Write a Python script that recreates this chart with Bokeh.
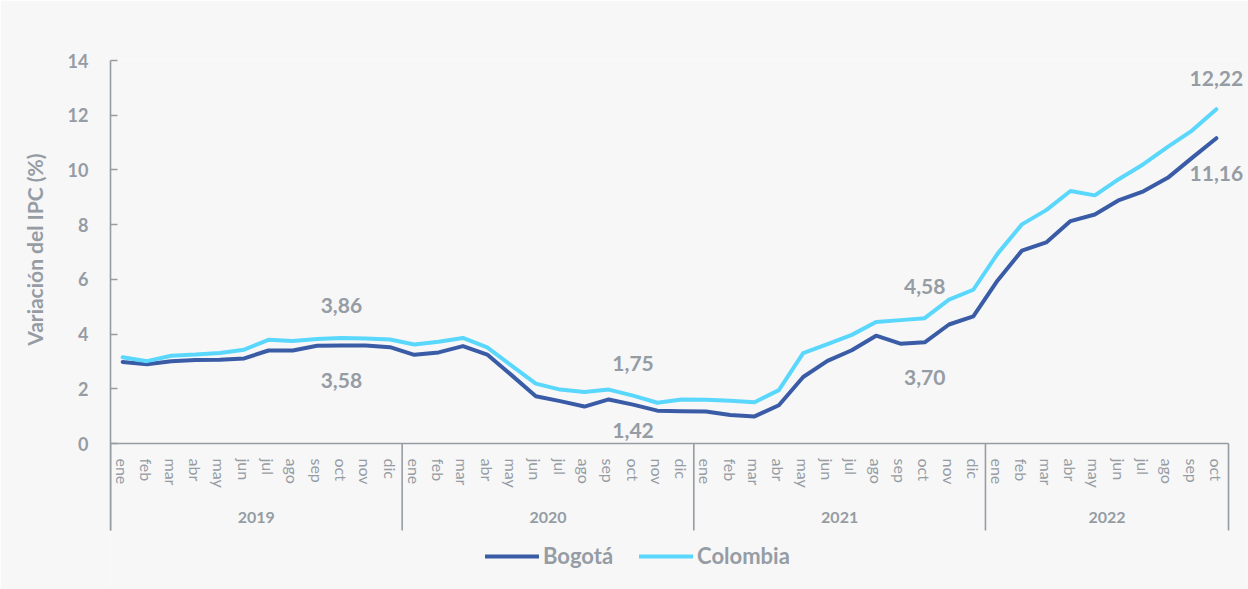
from bokeh.plotting import figure
from bokeh.models import (ColumnDataSource, FixedTicker, Legend, LegendItem, Range1d, Title)
from bokeh.core.properties import value
from bokeh.embed import file_html
from bokeh.resources import INLINE

# ---------------- data ----------------
years = ["2019", "2020", "2021", "2022"]
months = ["ene", "feb", "mar", "abr", "may", "jun", "jul", "ago", "sep", "oct", "nov", "dic"]
months_per_year = [12, 12, 12, 10]

bogota = [2.98, 2.90, 3.01, 3.05, 3.06, 3.11, 3.40, 3.40, 3.57, 3.58, 3.58, 3.52,
          3.24, 3.33, 3.56, 3.25, 2.50, 1.73, 1.55, 1.35, 1.61, 1.42, 1.20, 1.18,
          1.17, 1.04, 0.99, 1.40, 2.43, 3.02, 3.41, 3.94, 3.65, 3.70, 4.35, 4.65,
          5.96, 7.05, 7.35, 8.13, 8.37, 8.90, 9.22, 9.71, 10.44, 11.16]
colombia = [3.15, 3.01, 3.21, 3.25, 3.31, 3.43, 3.79, 3.75, 3.82, 3.86, 3.84, 3.80,
            3.62, 3.72, 3.86, 3.51, 2.85, 2.19, 1.97, 1.88, 1.97, 1.75, 1.49, 1.61,
            1.60, 1.56, 1.51, 1.95, 3.30, 3.63, 3.97, 4.44, 4.51, 4.58, 5.26, 5.62,
            6.94, 8.01, 8.53, 9.23, 9.07, 9.67, 10.21, 10.84, 11.44, 12.22]
y_ticks = [0, 2, 4, 6, 8, 10, 12, 14]
y_title = "Variación del IPC (%)"
label_idx = [9, 21, 33, 45]   # oct of each year

# ---------------- style / layout ----------------
GRAY = "#959ca4"
DARK = "#3a5ca6"
CYAN = "#5ad7fc"
BG = "#f7f7f7"
FONT = "Lato"
col_label_off = [-32, -32, -32, -31]
bog_label_off = [35, 26, 35, 35]

N = sum(months_per_year)
PLOT_LEFT = 110
PLOT_TOP = 60
UNIT = 1118 / N                 # px per month
FRAME_W = 1246 - PLOT_LEFT
X_END = -0.5 + FRAME_W / UNIT
Y_MAX = 14
PX_PER_Y = 383 / Y_MAX
FRAME_H = 589 - PLOT_TOP
Y_MIN = Y_MAX - FRAME_H / PX_PER_Y
TABLE_BOTTOM = -87 / PX_PER_Y
TITLE_TOP_OFFSET = 93           # px from frame top to the end of the y title

# x positions / labels derived from the categories
month_labels = [m for n in months_per_year for m in months[:n]]
xs = list(range(N))
src = ColumnDataSource(dict(x=xs, bog=bogota, col=colombia))

p = figure(frame_width=FRAME_W, frame_height=FRAME_H, output_backend="svg",
           toolbar_location=None,
           x_range=Range1d(-0.5, X_END), y_range=Range1d(Y_MIN, Y_MAX),
           min_border_left=PLOT_LEFT, min_border_right=1248 - PLOT_LEFT - FRAME_W,
           min_border_top=PLOT_TOP, min_border_bottom=0)
p.background_fill_color = BG
p.border_fill_color = BG
p.outline_line_color = None
p.xgrid.visible = False
p.ygrid.visible = False

# table borders / year separators below the x axis
edges = [-0.5]
for n in months_per_year:
    edges.append(edges[-1] + n)
p.segment(x0=edges, y0=[0] * len(edges), x1=edges, y1=[TABLE_BOTTOM] * len(edges),
          line_color=GRAY, line_width=1.6)

# year labels
centers = [(a + b) / 2 for a, b in zip(edges[:-1], edges[1:])]
p.text(x=centers, y=[TABLE_BOTTOM] * len(centers), text=years, y_offset=-13,
       text_align="center", text_baseline="middle", text_color=GRAY,
       text_font=value(FONT), text_font_style="bold", text_font_size="16px")

r_bog = p.line("x", "bog", source=src, line_color=DARK, line_width=4,
               line_cap="round", line_join="round")
r_col = p.line("x", "col", source=src, line_color=CYAN, line_width=4,
               line_cap="round", line_join="round")

# data labels
lab_x, lab_y, lab_t, lab_off = [], [], [], []
for i, off in zip(label_idx, col_label_off):
    lab_x.append(xs[i]); lab_y.append(colombia[i])
    lab_t.append(f"{colombia[i]:.2f}".replace(".", ",")); lab_off.append(off)
for i, off in zip(label_idx, bog_label_off):
    lab_x.append(xs[i]); lab_y.append(bogota[i])
    lab_t.append(f"{bogota[i]:.2f}".replace(".", ",")); lab_off.append(off)
lsrc = ColumnDataSource(dict(x=lab_x, y=lab_y, t=lab_t, off=lab_off))
p.text("x", "y", text="t", y_offset="off", source=lsrc, text_align="center",
       text_baseline="middle", text_color=GRAY, text_font=value(FONT),
       text_font_style="bold", text_font_size="21px")

# y axis
ya = p.yaxis[0]
ya.bounds = (TABLE_BOTTOM, Y_MAX)
ya.ticker = FixedTicker(ticks=y_ticks)
ya.axis_line_color = GRAY
ya.axis_line_width = 1.6
ya.major_tick_line_color = GRAY
ya.major_tick_line_width = 1.4
ya.major_tick_in = 7
ya.major_tick_out = 0
ya.minor_tick_line_color = None
ya.major_label_standoff = 22
ya.major_label_text_font = FONT
ya.major_label_text_font_style = "bold"
ya.major_label_text_font_size = "18px"
ya.major_label_text_color = GRAY

# y axis title, centred on the 0-14 span of the axis
ytitle = Title(text=y_title, align="right", offset=TITLE_TOP_OFFSET,
               standoff=36, text_font=FONT, text_font_style="bold",
               text_font_size="21px", text_color=GRAY)
p.add_layout(ytitle, "left")

# x axis (month ticks), drawn at y = 0
xa = p.xaxis[0]
xa.fixed_location = 0
xa.bounds = (-0.5, N - 0.5)
xa.ticker = FixedTicker(ticks=xs)
xa.major_label_overrides = {x: m for x, m in zip(xs, month_labels)}
xa.axis_line_color = GRAY
xa.axis_line_width = 1.6
xa.major_tick_line_color = None
xa.minor_tick_line_color = None
xa.major_label_orientation = "vertical"
xa.major_label_standoff = 9
xa.major_label_text_font = FONT
xa.major_label_text_font_size = "16px"
xa.major_label_text_color = GRAY

legend = Legend(items=[LegendItem(label="Bogotá", renderers=[r_bog]),
                       LegendItem(label="Colombia", renderers=[r_col])],
                orientation="horizontal", location=(485 - PLOT_LEFT, 20))
legend.label_text_font = FONT
legend.label_text_font_style = "bold"
legend.label_text_font_size = "22px"
legend.label_text_color = GRAY
legend.glyph_width = 54
legend.glyph_height = 20
legend.label_standoff = 4
legend.spacing = 26
legend.padding = 0
legend.margin = 0
legend.background_fill_alpha = 0
legend.border_line_color = None
p.add_layout(legend)

open("out.html", "w").write(file_html(p, INLINE))
